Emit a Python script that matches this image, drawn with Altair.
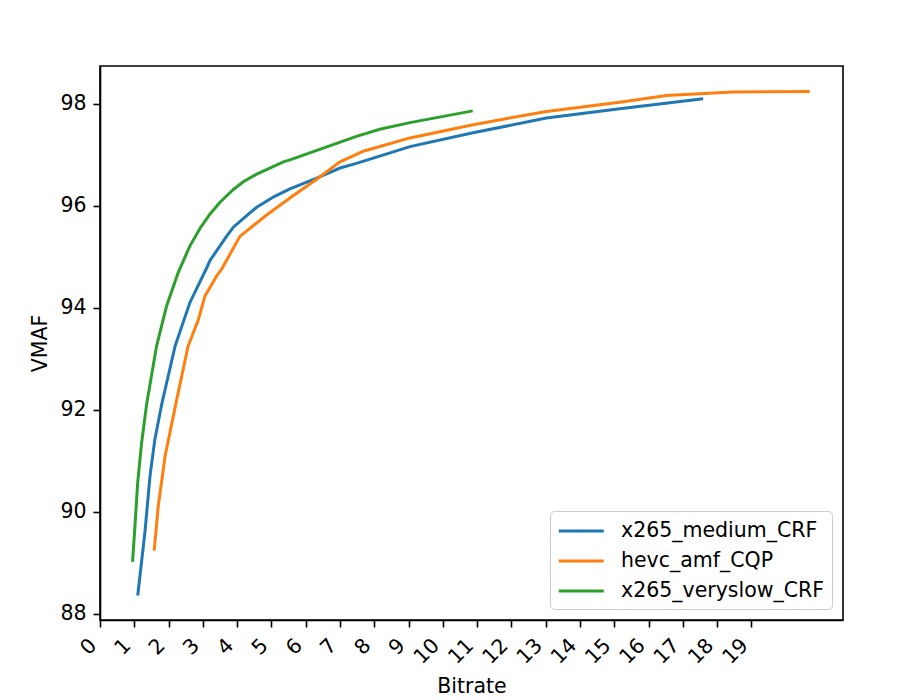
import altair as alt
import pandas as pd

series_names = ["x265_medium_CRF", "hevc_amf_CQP", "x265_veryslow_CRF"]
colors = ["#1f77b4", "#ff7f0e", "#2ca02c"]

medium_bitrate = [1.10, 1.31, 1.46, 1.60, 1.80, 2.19, 2.62, 3.11, 3.21, 3.69, 3.89, 4.37, 4.57,
                  5.08, 5.54, 5.83, 6.32, 7.00, 7.48, 9.04, 10.88, 13.02, 15.16, 17.59]
medium_vmaf = [88.36, 89.60, 90.71, 91.42, 92.11, 93.25, 94.10, 94.78, 94.93, 95.40, 95.58, 95.86, 95.97,
               96.18, 96.33, 96.41, 96.54, 96.74, 96.83, 97.16, 97.43, 97.72, 97.90, 98.10]

amf_bitrate = [1.58, 1.70, 1.90, 2.24, 2.57, 2.87, 3.06, 3.40, 3.55, 4.08, 4.86, 5.64, 6.32,
               7.00, 7.68, 9.04, 10.88, 13.02, 15.16, 16.52, 18.46, 20.70]
amf_vmaf = [89.24, 90.12, 91.10, 92.21, 93.25, 93.77, 94.23, 94.62, 94.76, 95.40, 95.82, 96.20, 96.52,
            96.86, 97.07, 97.33, 97.59, 97.85, 98.03, 98.16, 98.23, 98.24]

veryslow_bitrate = [0.95, 1.02, 1.10, 1.215, 1.36, 1.65, 1.94, 2.28, 2.62, 2.92, 3.21, 3.50,
                    3.89, 4.18, 4.57, 5.35, 5.54, 6.51, 7.48, 8.16, 9.04, 10.87]
veryslow_vmaf = [89.02, 89.73, 90.58, 91.36, 92.11, 93.25, 94.03, 94.69, 95.21, 95.56, 95.84, 96.07,
                 96.32, 96.47, 96.62, 96.86, 96.90, 97.13, 97.36, 97.50, 97.63, 97.86]

x_ticks = list(range(0, 20))
y_ticks = [88, 90, 92, 94, 96, 98]

frames = []
for name, xs, ys in [
    (series_names[0], medium_bitrate, medium_vmaf),
    (series_names[1], amf_bitrate, amf_vmaf),
    (series_names[2], veryslow_bitrate, veryslow_vmaf),
]:
    frames.append(pd.DataFrame({"series": name, "Bitrate": xs, "VMAF": ys}))
df = pd.concat(frames, ignore_index=True)

FONT = "DejaVu Sans"
FS = 20.5

chart = (
    alt.Chart(df)
    .mark_line(strokeWidth=3, clip=True)
    .encode(
        x=alt.X(
            "Bitrate:Q",
            scale=alt.Scale(domain=[0, 21.67], nice=False, zero=False),
            axis=alt.Axis(
                values=x_ticks,
                labelAngle=-45,
                labelAlign="right",
                labelBaseline="bottom",
                labelPadding=22,
                titleY=72,
                titleBaseline="alphabetic",
            ),
        ),
        y=alt.Y(
            "VMAF:Q",
            scale=alt.Scale(domain=[87.88, 98.74], nice=False, zero=False),
            axis=alt.Axis(
                values=y_ticks,
                labelPadding=7,
                titleX=-54,
                titleBaseline="alphabetic",
            ),
        ),
        color=alt.Color(
            "series:N",
            title=None,
            scale=alt.Scale(domain=series_names, range=colors),
            sort=series_names,
            legend=alt.Legend(
                orient="bottom-right",
                offset=11,
                symbolType="M-1,0H3",
                symbolSize=506,
                symbolStrokeWidth=3,
                labelFontSize=FS,
                labelFont=FONT,
                labelColor="#000000",
                labelOffset=38,
                labelLimit=400,
                padding=7,
                rowPadding=6,
                strokeColor="#cccccc",
                fillColor="#ffffff",
                cornerRadius=4,
            ),
        ),
    )
    .properties(
        width=743,
        height=554,
        background="#ffffff",
        autosize=alt.AutoSizeParams(type="none"),
        padding={"left": 100, "top": 66, "right": 67, "bottom": 80},
    )
    .configure_view(stroke="#000000", strokeWidth=1.6)
    .configure_axis(
        grid=False,
        domainColor="#000000",
        domainWidth=1.6,
        tickColor="#000000",
        tickWidth=1.6,
        tickSize=7,
        labelFont=FONT,
        labelFontSize=FS,
        labelColor="#000000",
        titleFont=FONT,
        titleFontSize=FS,
        titleFontWeight="normal",
        titleColor="#000000",
    )
)

chart.save("out.html", embed_options={"renderer": "svg", "actions": False})
